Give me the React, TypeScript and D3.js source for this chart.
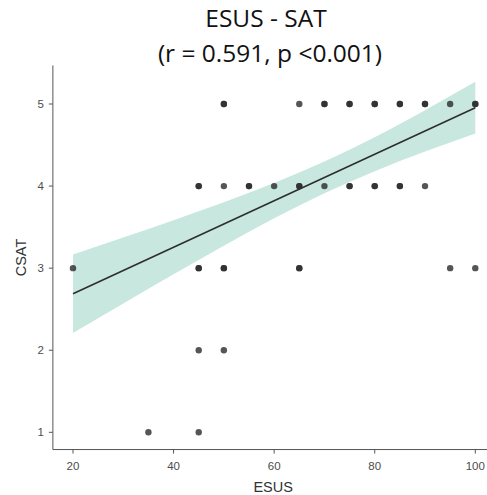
import React from "react";
import * as d3 from "d3";

const esus = [50, 50, 65, 70, 70, 75, 75, 80, 80, 85, 85, 90, 90, 95, 100, 100,
  45, 45, 50, 55, 55, 60, 65, 65, 70, 75, 75, 80, 80, 85, 85, 90,
  20, 45, 45, 50, 50, 65, 65, 95, 100,
  45, 50,
  35, 45];
const csat = [5, 5, 5, 5, 5, 5, 5, 5, 5, 5, 5, 5, 5, 5, 5, 5,
  4, 4, 4, 4, 4, 4, 4, 4, 4, 4, 4, 4, 4, 4, 4, 4,
  3, 3, 3, 3, 3, 3, 3, 3, 3,
  2, 2,
  1, 1];

const fitX = [20, 30, 40, 50, 60, 70, 80, 90, 100];
const fitY = [2.688, 2.971, 3.255, 3.538, 3.822, 4.105, 4.388, 4.672, 4.955];
const fitLower = [2.209, 2.569, 2.926, 3.274, 3.608, 3.912, 4.181, 4.42, 4.64];
const fitUpper = [3.167, 3.373, 3.584, 3.802, 4.036, 4.298, 4.595, 4.924, 5.27];

const xTicks = [20, 40, 60, 80, 100];
const yTicks = [1, 2, 3, 4, 5];

const titleLine1 = "ESUS - SAT";
const titleLine2 = "(r = 0.591, p <0.001)";
const xLabel = "ESUS";
const yLabel = "CSAT";

export default function App() {
  const W = 487, H = 495;
  const x = d3.scaleLinear().domain([20, 100]).range([73, 475.3]);
  const y = d3.scaleLinear().domain([1, 5]).range([432.3, 104]);
  const left = x(16), right = x(104);
  const top = y(5.47), bottom = y(0.79);

  const area = d3.area<number>()
    .x((_, i) => x(fitX[i]))
    .y0((_, i) => y(fitLower[i]))
    .y1((_, i) => y(fitUpper[i]))
    .curve(d3.curveMonotoneX);
  const line = d3.line<number>()
    .x((_, i) => x(fitX[i]))
    .y((_, i) => y(fitY[i]))
    .curve(d3.curveLinear);

  const sans = "'Liberation Sans', Arial, sans-serif";
  const titleFont = "'Open Sans', 'Noto Sans', sans-serif";

  return (
    <svg width={W} height={H} style={{ position: "absolute", left: 0, top: 0, background: "#fff" }}>
      <rect x={0} y={0} width={W} height={H} fill="#fff" />
      <path d={area(fitX) || ""} fill="#c8e7de" stroke="none" />
      {esus.map((v, i) => (
        <circle key={i} cx={x(v)} cy={y(csat[i])} r={3.2} fill="#2b2b2b" fillOpacity={0.8} />
      ))}
      <path d={line(fitX) || ""} fill="none" stroke="#2e2e2e" strokeWidth={1.6} />
      <line x1={left} x2={left} y1={top} y2={bottom} stroke="#555" strokeWidth={1} />
      <line x1={left} x2={right} y1={bottom} y2={bottom} stroke="#555" strokeWidth={1} />
      {xTicks.map((t) => (
        <g key={"x" + t}>
          <line x1={x(t)} x2={x(t)} y1={bottom} y2={bottom + 4} stroke="#555" strokeWidth={1} />
          <text x={x(t)} y={470} textAnchor="middle" fontFamily={sans} fontSize={11.5} fill="#4d4d4d">{t}</text>
        </g>
      ))}
      {yTicks.map((t) => (
        <g key={"y" + t}>
          <line x1={left - 4} x2={left} y1={y(t)} y2={y(t)} stroke="#555" strokeWidth={1} />
          <text x={44} y={y(t) + 4} textAnchor="end" fontFamily={sans} fontSize={11.5} fill="#4d4d4d">{t}</text>
        </g>
      ))}
      <text x={(left + right) / 2 - 1} y={492} textAnchor="middle" fontFamily={sans} fontSize={14.5} fill="#333">{xLabel}</text>
      <text transform={`translate(26,${(top + bottom) / 2}) rotate(-90)`} textAnchor="middle" fontFamily={sans} fontSize={14.5} fill="#333">{yLabel}</text>
      <text x={266} y={27} textAnchor="middle" fontFamily={titleFont} fontSize={24.5} fill="#111">{titleLine1}</text>
      <text x={270} y={62} textAnchor="middle" fontFamily={titleFont} fontSize={24.5} fill="#111">{titleLine2}</text>
    </svg>
  );
}
